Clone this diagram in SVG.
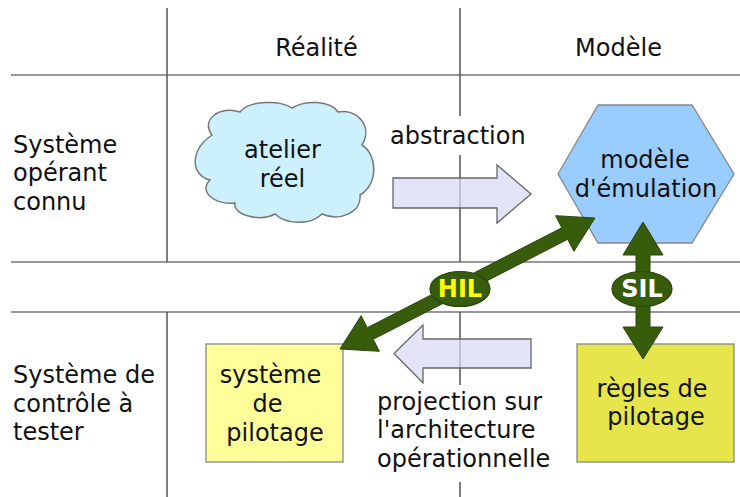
<svg xmlns="http://www.w3.org/2000/svg" width="740" height="497" viewBox="0 0 740 497">
<style>
text{font-family:"DejaVu Sans","Liberation Sans",sans-serif;font-size:24px;fill:#111}
.c{text-anchor:middle}
.hl{stroke:#777;stroke-width:1.5}
.vl{stroke:#555;stroke-width:1.5}
.block{fill:#dadaf7;fill-opacity:0.72;stroke:#666;stroke-width:1.3}
.green{fill:#375c0b;stroke:#2a470a;stroke-width:1}
.lbl{fill:#375c0b;stroke:#2a470a;stroke-width:1.2}
.bold{font-weight:bold;text-anchor:middle}
</style>
<rect width="740" height="497" fill="#fff"/>
<g id="grid">
<line class="hl" x1="11" y1="75" x2="740" y2="75"/>
<line class="hl" x1="11" y1="262" x2="740" y2="262"/>
<line class="hl" x1="11" y1="312" x2="740" y2="312"/>
<line class="vl" x1="167" y1="8" x2="167" y2="262"/>
<line class="vl" x1="167" y1="312" x2="167" y2="497"/>
<line class="vl" x1="460" y1="8" x2="460" y2="116"/>
<line class="vl" x1="460" y1="155" x2="460" y2="262"/>
<line class="vl" x1="460" y1="312" x2="460" y2="385"/>
<line class="vl" x1="460" y1="482" x2="460" y2="497"/>
</g>
<g id="headers">
<text class="c" x="316.5" y="56">Réalité</text>
<text class="c" x="618.5" y="56">Modèle</text>
<text x="13" y="152.5">Système</text>
<text x="13" y="181">opérant</text>
<text x="13" y="209.5">connu</text>
<text x="13" y="383">Système de</text>
<text x="13" y="412">contrôle à</text>
<text x="13" y="440">tester</text>
</g>
<g id="atelier-reel">
<path d="M212,135 C200,120 220,105 240,112 C250,100 280,100 292,108 C305,100 330,100 338,112 C355,108 374,125 362,145 C378,155 378,185 360,195 C362,212 340,222 322,214 C310,226 285,224 275,214 C260,222 232,215 235,203 C215,205 198,192 210,180 C190,175 190,150 212,135 Z" fill="#ccf0fc" stroke="#777" stroke-width="1.5"/>
<text class="c" x="282.5" y="158">atelier</text>
<text class="c" x="282.5" y="187">réel</text>
</g>
<g id="modele-emulation">
<polygon points="558,174 598,105 692,105 734,174 692,243 598,243" fill="#99ccff" stroke="#888" stroke-width="1.3"/>
<text class="c" x="645" y="168">modèle</text>
<text class="c" x="646" y="197">d'émulation</text>
</g>
<g id="systeme-pilotage">
<rect x="206" y="344" width="137" height="118" fill="#ffff99" stroke="#888" stroke-width="1.3"/>
<text class="c" x="270.5" y="383">système</text>
<text class="c" x="267.5" y="412">de</text>
<text class="c" x="275" y="441">pilotage</text>
</g>
<g id="regles-pilotage">
<rect x="577" y="344" width="157" height="118" fill="#e6e64c" stroke="#888" stroke-width="1.3"/>
<text class="c" x="652" y="397">règles de</text>
<text class="c" x="656" y="425">pilotage</text>
</g>
<g id="connectors">
<g id="abstraction">
<polygon class="block" points="393,178 497,178 497,165 531,194 497,223 497,208 393,208"/>
<text x="390" y="144">abstraction</text>
</g>
<g id="projection">
<polygon class="block" points="531,339 423,339 423,325 394,353.5 423,383 423,368 531,368"/>
<text x="377" y="410">projection sur</text>
<text x="377" y="438">l'architecture</text>
<text x="377" y="467">opérationnelle</text>
</g>
<g id="hil">
<polygon class="green" points="340,349 379.4,351.3 373.2,339.3 567.7,239.3 573.9,251.3 595,218 555.6,215.7 561.8,227.8 367.3,327.7 361.1,315.7"/>
<ellipse class="lbl" cx="460" cy="289" rx="30" ry="17.5"/>
<text class="bold" x="460" y="297" style="fill:#ffff00">HIL</text>
</g>
<g id="sil">
<polygon class="green" points="643,222 663,255 650,255 650,327 663,327 643,359 623,327 636,327 636,255 623,255"/>
<ellipse class="lbl" cx="642" cy="289" rx="30" ry="17.5"/>
<text class="bold" x="642" y="297" style="fill:#ffffff">SIL</text>
</g>
</g>
</svg>
